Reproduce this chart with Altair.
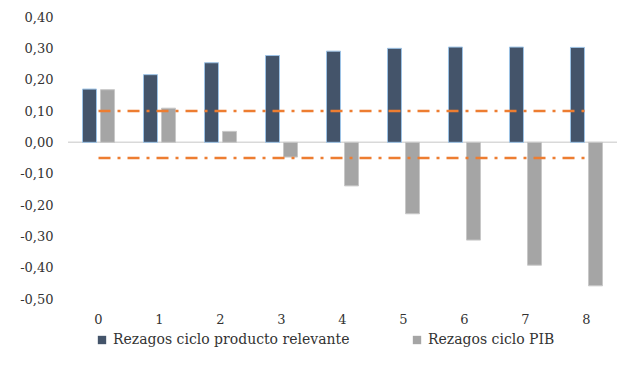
import altair as alt
import pandas as pd

# Lags (quarters) and the two sets of estimated coefficients
lags = ["0", "1", "2", "3", "4", "5", "6", "7", "8"]
ciclo_producto_relevante = [0.17, 0.216, 0.254, 0.277, 0.291, 0.300, 0.304, 0.304, 0.303]
ciclo_pib = [0.168, 0.109, 0.035, -0.047, -0.139, -0.228, -0.312, -0.392, -0.458]

serie_a = "Rezagos ciclo producto relevante"
serie_b = "Rezagos ciclo PIB"

# Reference bands drawn as dash-dot lines
banda_superior = 0.10
banda_inferior = -0.05

# Y-axis tick values
y_ticks = [0.4, 0.3, 0.2, 0.1, 0.0, -0.1, -0.2, -0.3, -0.4, -0.5]

FONT = "DejaVu Serif"
TEXT_COLOR = "#333333"

bars_df = pd.DataFrame(
    [{"lag": l, "serie": serie_a, "valor": v} for l, v in zip(lags, ciclo_producto_relevante)]
    + [{"lag": l, "serie": serie_b, "valor": v} for l, v in zip(lags, ciclo_pib)]
)

bands_df = pd.DataFrame(
    [{"lag": lags[0], "valor": banda_superior, "banda": "sup"},
     {"lag": lags[-1], "valor": banda_superior, "banda": "sup"},
     {"lag": lags[0], "valor": banda_inferior, "banda": "inf"},
     {"lag": lags[-1], "valor": banda_inferior, "banda": "inf"}]
)

x_scale = alt.Scale(domain=lags, paddingInner=0.475, paddingOuter=0.2377)
y_scale = alt.Scale(domain=[-0.5, 0.4], nice=False, zero=False)

# One axis definition per channel, shared by every layer so they merge cleanly
x_axis = alt.Axis(
    title=None, labelAngle=0, domain=False, ticks=False, tickSize=0,
    labelPadding=14, labelFont=FONT, labelFontSize=13, labelColor=TEXT_COLOR,
)
y_axis = alt.Axis(
    title=None, values=y_ticks,
    grid=False, domain=False, ticks=False, tickSize=0, labelPadding=15,
    labelOverlap=False, labelFlush=False,
    labelFont=FONT, labelFontSize=13, labelColor=TEXT_COLOR,
    labelExpr="(datum.value < -0.001 ? '-' : '') + replace(format(abs(datum.value), '.2f'), '.', ',')",
)

bars = alt.Chart(bars_df).mark_bar(strokeWidth=1).encode(
    x=alt.X("lag:O", scale=x_scale, axis=x_axis),
    xOffset=alt.XOffset("serie:N", sort=[serie_a, serie_b],
                        scale=alt.Scale(domain=[serie_a, serie_b], paddingInner=0.222, paddingOuter=0)),
    y=alt.Y("valor:Q", scale=y_scale, axis=y_axis),
    y2=alt.Y2(datum=0),
    color=alt.Color(
        "serie:N",
        sort=[serie_a, serie_b],
        scale=alt.Scale(domain=[serie_a, serie_b], range=["#44546A", "#A5A5A5"]),
        legend=alt.Legend(
            title=None, orient="none", direction="horizontal",
            legendX=27, legendY=316, symbolType="square", symbolSize=70,
            symbolStrokeWidth=0, labelFont=FONT, labelFontSize=14,
            labelColor=TEXT_COLOR, columnPadding=60, labelOffset=4, labelLimit=0,
        ),
    ),
    stroke=alt.Stroke(
        "serie:N",
        scale=alt.Scale(domain=[serie_a, serie_b], range=["#9DC3E6", "#C8C8C8"]),
        legend=None,
    ),
)

zero_line = alt.Chart(pd.DataFrame({"valor": [0]})).mark_rule(
    color="#D9D9D9", strokeWidth=1.5
).encode(y=alt.Y("valor:Q", scale=y_scale, axis=y_axis))

bands = alt.Chart(bands_df).mark_line(
    color="#ED7D31", strokeWidth=2.5, strokeDash=[12, 7, 3, 7]
).encode(
    x=alt.X("lag:O", scale=x_scale, axis=x_axis),
    y=alt.Y("valor:Q", scale=y_scale, axis=y_axis),
    detail="banda:N",
)

chart = alt.layer(zero_line, bars, bands).properties(
    width=549,
    height=282,
    autosize=alt.AutoSizeParams(type="none"),
    padding={"left": 68, "top": 17, "right": 1, "bottom": 66},
    background="white",
).configure_view(stroke=None)

chart.save("out.html", embed_options={"renderer": "svg", "actions": False})
